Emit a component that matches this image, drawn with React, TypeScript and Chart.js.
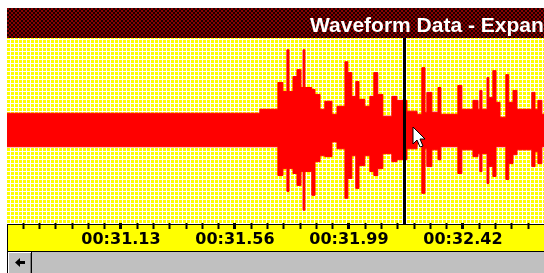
import React, { useEffect, useRef } from "react";
import { Chart, registerables } from "chart.js";

Chart.register(...registerables);

// ---- data ----
const titleText = "Waveform Data - Expanded";
const axisStart = 30.7;
const axisEnd = 32.726;
const majorTimes = [31.13, 31.56, 31.99, 32.42];
const majorLabels = ["00:31.13", "00:31.56", "00:31.99", "00:32.42"];
const minorPerMajor = 7;
const cursorTime = 32.196;

const sampleTimes = [
  30.7, 31.654, 31.722, 31.741, 31.756, 31.764, 31.779, 31.794, 31.809, 31.817,
  31.824, 31.85, 31.862, 31.881, 31.899, 31.926, 31.945, 31.975, 31.986, 32.001,
  32.016, 32.028, 32.05, 32.069, 32.084, 32.099, 32.118, 32.152, 32.171, 32.209,
  32.247, 32.265, 32.277, 32.284, 32.303, 32.326, 32.337, 32.401, 32.416, 32.458,
  32.477, 32.484, 32.492, 32.511, 32.518, 32.533, 32.545, 32.56, 32.582, 32.593,
  32.609, 32.624, 32.68, 32.692, 32.703, 32.718, 32.726,
];
const upperEnvelope = [
  0.187, 0.23, 0.519, 0.422, 0.872, 0.422, 0.583, 0.658, 0.465, 0.872,
  0.465, 0.444, 0.39, 0.23, 0.316, 0.176, 0.262, 0.743, 0.626, 0.369,
  0.529, 0.337, 0.262, 0.369, 0.626, 0.39, 0.155, 0.369, 0.326, 0.209,
  0.176, 0.679, 0.198, 0.412, 0.198, 0.465, 0.176, 0.487, 0.23, 0.326,
  0.23, 0.433, 0.23, 0.572, 0.358, 0.647, 0.305, 0.144, 0.604, 0.305,
  0.433, 0.23, 0.412, 0.23, 0.326, 0.176, 0.176,
];
const lowerEnvelope = [
  -0.176, -0.176, -0.487, -0.412, -0.658, -0.412, -0.465, -0.594, -0.444, -0.861,
  -0.444, -0.701, -0.337, -0.273, -0.283, -0.123, -0.198, -0.733, -0.519, -0.273,
  -0.626, -0.38, -0.273, -0.444, -0.487, -0.412, -0.251, -0.337, -0.316, -0.198,
  -0.144, -0.679, -0.198, -0.39, -0.209, -0.316, -0.176, -0.465, -0.209, -0.283,
  -0.251, -0.444, -0.251, -0.572, -0.39, -0.497, -0.176, -0.176, -0.529, -0.358,
  -0.262, -0.209, -0.39, -0.23, -0.358, -0.176, -0.176,
];

const isMajor = (v: number) => majorTimes.some((m) => Math.abs(m - v) < 1e-6);

function makePattern(
  ctx: CanvasRenderingContext2D,
  size: number,
  paint: (c: CanvasRenderingContext2D) => void
) {
  const c = document.createElement("canvas");
  c.width = size;
  c.height = size;
  const p = c.getContext("2d")!;
  paint(p);
  return ctx.createPattern(c, "repeat")!;
}

const decorPlugin = {
  id: "decor",
  beforeDraw(chart: any) {
    const { ctx, chartArea, width } = chart;
    const xScale = chart.scales.x;
    ctx.save();
    // title bar
    ctx.fillStyle = makePattern(ctx, 4, (p) => {
      p.fillStyle = "#1a0000";
      p.fillRect(0, 0, 4, 4);
      p.fillStyle = "#8a0000";
      p.fillRect(0, 0, 2, 2);
      p.fillRect(2, 2, 2, 2);
    });
    ctx.fillRect(0, 0, width, chartArea.top);
    ctx.fillStyle = "#ffffff";
    ctx.font = "bold 21px 'Liberation Sans', Arial, sans-serif";
    ctx.textBaseline = "alphabetic";
    ctx.textAlign = "left";
    ctx.fillText(titleText, 303, 23.5);
    // plot background (yellow with white dotted grid)
    ctx.fillStyle = makePattern(ctx, 4, (p) => {
      p.fillStyle = "#ffff00";
      p.fillRect(0, 0, 4, 4);
      p.fillStyle = "#ffffff";
      p.fillRect(3, 0, 1, 4);
      p.fillRect(0, 3, 4, 1);
    });
    ctx.fillRect(chartArea.left, chartArea.top, chartArea.right - chartArea.left, chartArea.bottom - chartArea.top);
    // axis band
    const bandTop = chartArea.bottom + 1;
    const bandBottom = xScale.bottom;
    ctx.fillStyle = "#000000";
    ctx.fillRect(0, bandTop, width, bandBottom - bandTop + 1);
    ctx.fillStyle = "#ffff00";
    ctx.fillRect(1, bandTop + 1, width - 1, bandBottom - bandTop - 1);
    // scrollbar
    const sbTop = bandBottom + 1;
    const sbBottom = chart.height;
    ctx.fillStyle = "#c0c0c0";
    ctx.fillRect(0, sbTop, width, sbBottom - sbTop);
    ctx.fillStyle = "#000000";
    ctx.fillRect(0, sbTop, 1, sbBottom - sbTop);
    ctx.fillRect(24, sbTop, 1, sbBottom - sbTop);
    ctx.fillStyle = "#ffffff";
    ctx.fillRect(1, sbTop, 23, 1);
    ctx.fillRect(1, sbTop, 1, sbBottom - sbTop);
    ctx.fillStyle = "#808080";
    ctx.fillRect(23, sbTop + 1, 1, sbBottom - sbTop - 1);
    // arrow
    const cy = (sbTop + sbBottom) / 2;
    ctx.fillStyle = "#000000";
    ctx.beginPath();
    ctx.moveTo(8, cy);
    ctx.lineTo(13, cy - 4.5);
    ctx.lineTo(13, cy + 4.5);
    ctx.closePath();
    ctx.fill();
    ctx.fillRect(13, cy - 1.5, 5, 3);
    ctx.restore();
  },
  afterDatasetsDraw(chart: any) {
    const { ctx, chartArea } = chart;
    const x = chart.scales.x.getPixelForValue(cursorTime);
    ctx.save();
    ctx.fillStyle = "#000000";
    ctx.fillRect(Math.round(x) - 1, chartArea.top, 3, chartArea.bottom - chartArea.top + 1);
    // mouse pointer
    const px = Math.round(x) + 9;
    const py = 119;
    const pts = [
      [0, 0], [0, 17], [4, 13], [7, 20], [10, 19], [7, 12], [12, 12],
    ];
    ctx.beginPath();
    pts.forEach(([a, b], i) => (i ? ctx.lineTo(px + a, py + b) : ctx.moveTo(px + a, py + b)));
    ctx.closePath();
    ctx.fillStyle = "#ffffff";
    ctx.fill();
    ctx.strokeStyle = "#000000";
    ctx.lineWidth = 1;
    ctx.stroke();
    ctx.restore();
  },
};

export default function App() {
  const ref = useRef<HTMLCanvasElement>(null);
  useEffect(() => {
    const upper = sampleTimes.map((t, i) => ({ x: t, y: upperEnvelope[i] }));
    const lower = sampleTimes.map((t, i) => ({ x: t, y: lowerEnvelope[i] }));
    const chart = new Chart(ref.current!, {
      type: "line",
      data: {
        datasets: [
          {
            data: upper,
            stepped: true,
            borderColor: "#ff0000",
            borderWidth: 1,
            backgroundColor: "#ff0000",
            pointRadius: 0,
            fill: "+1",
          },
          {
            data: lower,
            stepped: true,
            borderColor: "#ff0000",
            borderWidth: 1,
            backgroundColor: "#ff0000",
            pointRadius: 0,
            fill: false,
          },
        ],
      },
      options: {
        animation: false,
        responsive: true,
        maintainAspectRatio: false,
        layout: { padding: { top: 30, bottom: 22, left: 0, right: 0 } },
        plugins: { legend: { display: false }, tooltip: { enabled: false }, title: { display: false } },
        events: [],
        scales: {
          x: {
            type: "linear",
            min: axisStart,
            max: axisEnd,
            border: { display: false },
            grid: {
              drawOnChartArea: false,
              drawTicks: true,
              tickLength: 6,
              tickColor: "#000000",
              tickWidth: (c: any) => (c.tick && isMajor(c.tick.value) ? 3 : 2),
            },
            afterBuildTicks: (scale: any) => {
              const step = (majorTimes[1] - majorTimes[0]) / minorPerMajor;
              const m0 = majorTimes[0];
              const ticks: any[] = [];
              const n0 = Math.ceil((axisStart - m0) / step + 1e-6);
              const n1 = Math.floor((axisEnd - m0) / step);
              for (let n = n0; n <= n1; n++) {
                const v = m0 + n * step;
                if (v > axisStart + 1e-6) ticks.push({ value: v });
              }
              scale.ticks = ticks;
            },
            ticks: {
              autoSkip: false,
              maxRotation: 0,
              padding: 2,
              color: "#000000",
              font: { family: "'DejaVu Sans'", weight: "bold", size: 16, lineHeight: 1.125 },
              callback: (v: any) => {
                const i = majorTimes.findIndex((m) => Math.abs(m - v) < 1e-6);
                return i >= 0 ? majorLabels[i] : "";
              },
            },
          },
          y: { display: false, min: -1, max: 1 },
        },
      },
      plugins: [decorPlugin],
    });
    return () => chart.destroy();
  }, []);
  return (
    <div style={{ position: "fixed", left: 7, top: 8, right: 0, bottom: 0 }}>
      <canvas ref={ref} />
    </div>
  );
}
